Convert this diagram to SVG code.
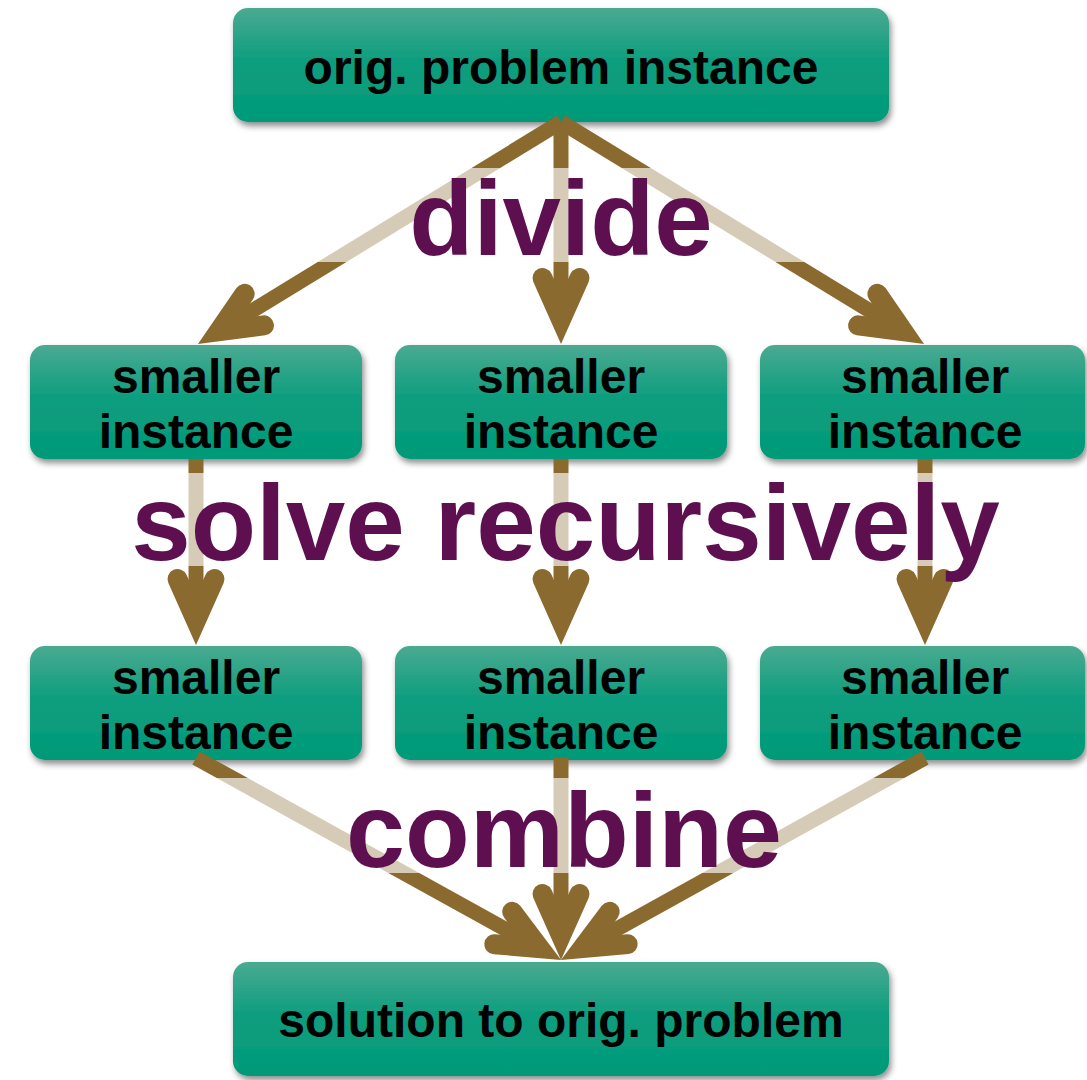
<svg xmlns="http://www.w3.org/2000/svg" width="1087" height="1080" viewBox="0 0 1087 1080">
  <defs>
    <linearGradient id="boxGrad" x1="0" y1="0" x2="0" y2="1">
      <stop offset="0" stop-color="#4aaa91"/>
      <stop offset="0.45" stop-color="#0f9e7f"/>
      <stop offset="1" stop-color="#009a78"/>
    </linearGradient>
    <filter id="shadow" x="-10%" y="-20%" width="120%" height="150%">
      <feDropShadow dx="2" dy="4" stdDeviation="3" flood-color="#000" flood-opacity="0.45"/>
    </filter>
    <marker id="head" markerUnits="userSpaceOnUse" orient="auto" refX="0" refY="0" markerWidth="10" markerHeight="10" overflow="visible">
      <path d="M -41.5,-18.5 L 0,0 L -41.5,18.5" fill="none" stroke="#8b6a2f" stroke-width="20" stroke-linecap="round" stroke-linejoin="miter" stroke-miterlimit="10"/>
    </marker>
    <style>
      .box { fill: url(#boxGrad); filter: url(#shadow); }
      .nt { font-family: "Liberation Sans", Arial, sans-serif; font-weight: bold; font-size: 48px; fill: #000; text-anchor: middle; }
      .conn { fill: none; stroke: #8b6a2f; stroke-width: 15; stroke-linecap: butt; marker-end: url(#head); }
      .band { fill: #fff; fill-opacity: 0.65; }
      .lbl { font-family: "Liberation Sans", Arial, sans-serif; font-weight: bold; font-size: 105px; fill: #5d0f4f; text-anchor: middle; }
    </style>
  </defs>

  <g id="orig">
    <rect class="box" x="233" y="8" width="656" height="114" rx="15"/>
    <text class="nt" x="561" y="84">orig. problem instance</text>
  </g>

  <g id="s1">
    <rect class="box" x="30" y="345" width="332" height="114" rx="15"/>
    <text class="nt" x="196" y="393">smaller</text>
    <text class="nt" x="196" y="448">instance</text>
  </g>
  <g id="s2">
    <rect class="box" x="395" y="345" width="332" height="114" rx="15"/>
    <text class="nt" x="561" y="393">smaller</text>
    <text class="nt" x="561" y="448">instance</text>
  </g>
  <g id="s3">
    <rect class="box" x="760" y="345" width="325" height="114" rx="15"/>
    <text class="nt" x="925" y="393">smaller</text>
    <text class="nt" x="925" y="448">instance</text>
  </g>

  <g id="r1">
    <rect class="box" x="30" y="646" width="332" height="114" rx="15"/>
    <text class="nt" x="196" y="694">smaller</text>
    <text class="nt" x="196" y="749">instance</text>
  </g>
  <g id="r2">
    <rect class="box" x="395" y="646" width="332" height="114" rx="15"/>
    <text class="nt" x="561" y="694">smaller</text>
    <text class="nt" x="561" y="749">instance</text>
  </g>
  <g id="r3">
    <rect class="box" x="760" y="646" width="325" height="114" rx="15"/>
    <text class="nt" x="925" y="694">smaller</text>
    <text class="nt" x="925" y="749">instance</text>
  </g>

  <g id="solution">
    <rect class="box" x="233" y="962" width="656" height="114" rx="15"/>
    <text class="nt" x="561" y="1037">solution to orig. problem</text>
  </g>

  <g id="connectors">
    <path class="conn" d="M 561,122 L 218.9,331.2"/>
    <path class="conn" d="M 561,122 L 561,319.5"/>
    <path class="conn" d="M 561,122 L 903.1,331.2"/>
    <path class="conn" d="M 196,459 L 196,620.5"/>
    <path class="conn" d="M 561,459 L 561,620.5"/>
    <path class="conn" d="M 925,459 L 925,620.5"/>
    <path class="conn" d="M 196,758 L 539.6,948.1"/>
    <path class="conn" d="M 561,758 L 561,935.5"/>
    <path class="conn" d="M 925,758 L 582.4,948.1"/>
  </g>

  <g id="labels">
    <rect class="band" x="20" y="168" width="1047" height="94"/>
    <text class="lbl" x="561" y="255">divide</text>
    <rect class="band" x="20" y="473" width="1047" height="93"/>
    <text class="lbl" x="565.5" y="560" style="font-size:107px">solve recursively</text>
    <rect class="band" x="20" y="778" width="1047" height="95"/>
    <text class="lbl" x="564" y="867" style="font-size:106px">combine</text>
  </g>
</svg>
